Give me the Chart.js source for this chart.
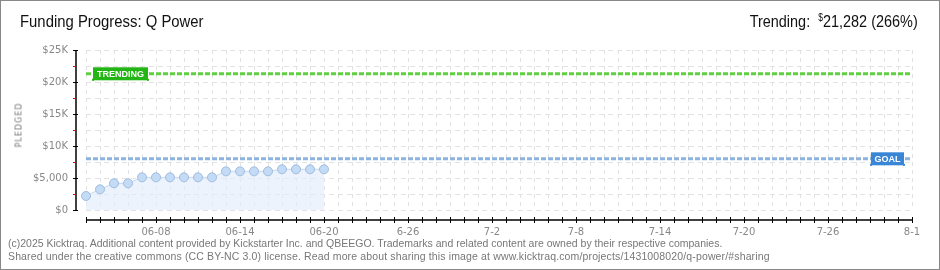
<!DOCTYPE html>
<html>
<head>
<meta charset="utf-8">
<script src="https://cdn.jsdelivr.net/npm/chart.js@4/dist/chart.umd.min.js"></script>
<style>
  body { margin: 0; background: #fff; }
  #wrap { position: relative; width: 940px; height: 270px; overflow: hidden; }
  #frame { position: absolute; left: 0; top: 0; width: 940px; height: 270px; box-sizing: border-box; border: 1px solid #888; pointer-events: none; }
  canvas { position: absolute; left: 0; top: 0; }
  .txt { position: absolute; white-space: nowrap; }
  #title { left: 20px; top: 12px; font: 17px "Liberation Sans", sans-serif; color: #111; transform: scaleX(0.875); transform-origin: 0 0; }
  #trend { right: 22px; top: 12px; font: 17px "Liberation Sans", sans-serif; color: #111; transform: scaleX(0.85); transform-origin: 100% 0; }
  #trend sup { font-size: 10px; vertical-align: 6px; }
  #pledged { left: 19px; top: 125px; font: 8px "DejaVu Sans", sans-serif; letter-spacing: 1px; color: #777; transform: translate(-50%, -50%) rotate(-90deg); }
  .foot { left: 8px; font: 10.5px "Liberation Sans", sans-serif; color: #777; }
</style>
</head>
<body>
<div id="wrap">
  <canvas id="chart" width="940" height="270"></canvas>
  <div class="txt" id="title">Funding Progress: Q Power</div>
  <div class="txt" id="trend">Trending:&nbsp; <sup>$</sup>21,282 (266%)</div>
  <div class="txt" id="pledged">PLEDGED</div>
  <div class="txt foot" style="top:237px">(c)2025 Kicktraq. Additional content provided by Kickstarter Inc. and QBEEGO. Trademarks and related content are owned by their respective companies.</div>
  <div class="txt foot" style="top:250px; letter-spacing:0.14px">Shared under the creative commons (CC BY-NC 3.0) license. Read more about sharing this image at www.kicktraq.com/projects/1431008020/q-power/#sharing</div>
  <div id="frame"></div>
</div>
<script>
// Données du graphique
const pledged = [2190, 3230, 4170, 4170, 5100, 5100, 5100, 5100, 5100, 5100,
                 6040, 6040, 6040, 6040, 6360, 6360, 6360, 6360];
const goal = 8000;
const trending = 21282;

// Jours de la campagne : 06-03 -> 08-01
const startDate = new Date(2025, 5, 3);
const dayCount = 60;
const days = [];
for (let i = 0; i < dayCount; i++) {
  const d = new Date(startDate);
  d.setDate(d.getDate() + i);
  days.push((d.getMonth() + 1) + '-' + d.getDate());
}

// Étiquettes des axes
const xTickDays = ['6-8', '6-14', '6-20', '6-26', '7-2', '7-8', '7-14', '7-20', '7-26', '8-1'];
const xTickText = ['06-08', '06-14', '06-20', '6-26', '7-2', '7-8', '7-14', '7-20', '7-26', '8-1'];
const yTickValues = [0, 5000, 10000, 15000, 20000, 25000];
const yTickText = ['$0', '$5,000', '$10K', '$15K', '$20K', '$25K'];

const goalLine = days.map(() => goal);
const trendLine = days.map(() => trending);

// Axes dessinés à la main + étiquettes TRENDING / GOAL
const decorPlugin = {
  id: 'decor',
  afterDatasetsDraw(chart) {
    const { ctx, chartArea, scales } = chart;
    const x = scales.x, y = scales.y;
    ctx.save();
    // axe Y
    const ax = chartArea.left - 10;
    ctx.strokeStyle = '#000';
    ctx.lineWidth = 1.5;
    ctx.beginPath();
    ctx.moveTo(ax, y.getPixelForValue(25000));
    ctx.lineTo(ax, y.getPixelForValue(0));
    ctx.stroke();
    for (let v = 0; v <= 25000; v += 2500) {
      const py = Math.round(y.getPixelForValue(v)) + 0.5;
      ctx.lineWidth = 1;
      ctx.beginPath();
      if (v % 5000 === 0) {
        ctx.strokeStyle = '#000';
        ctx.moveTo(ax - 3, py); ctx.lineTo(ax + 2, py);
      } else {
        ctx.strokeStyle = '#e00';
        ctx.moveTo(ax - 3, py); ctx.lineTo(ax, py);
      }
      ctx.stroke();
    }
    // axe X
    const ay = chartArea.bottom + 10;
    ctx.strokeStyle = '#000';
    ctx.lineWidth = 1.5;
    ctx.beginPath();
    ctx.moveTo(x.getPixelForValue(0), ay);
    ctx.lineTo(x.getPixelForValue(dayCount - 1), ay);
    ctx.stroke();
    ctx.lineWidth = 1;
    for (let i = 0; i < dayCount; i++) {
      const px = Math.round(x.getPixelForValue(i)) + 0.5;
      ctx.beginPath();
      ctx.moveTo(px, ay - 3); ctx.lineTo(px, ay + 3);
      ctx.stroke();
    }
    // étiquettes
    const tag = (text, color, left, cy, w) => {
      ctx.fillStyle = color;
      ctx.fillRect(left, cy - 6.5, w, 13);
      ctx.fillRect(left - 1, cy + 5, 2, 2);
      ctx.fillRect(left + w - 1, cy + 5, 2, 2);
      ctx.fillStyle = '#fff';
      ctx.font = 'bold 9px "Liberation Sans", sans-serif';
      ctx.textBaseline = 'middle';
      ctx.textAlign = 'center';
      ctx.fillText(text, left + w / 2, cy + 0.5);
    };
    tag('TRENDING', '#22b514', chartArea.left + 7, y.getPixelForValue(trending), 55);
    tag('GOAL', '#3a86d6', chartArea.right - 41, y.getPixelForValue(goal), 33);
    ctx.restore();
  }
};

new Chart(document.getElementById('chart'), {
  type: 'line',
  data: {
    labels: days,
    datasets: [
      {
        label: 'Trending',
        data: trendLine,
        borderColor: '#5fd040',
        borderWidth: 3,
        borderDash: [5, 2],
        pointRadius: 0,
        fill: false
      },
      {
        label: 'Goal',
        data: goalLine,
        borderColor: '#8db3de',
        borderWidth: 3,
        borderDash: [5, 2],
        pointRadius: 0,
        fill: false
      },
      {
        label: 'Pledged',
        data: pledged,
        borderColor: '#c3d9f2',
        borderWidth: 1,
        backgroundColor: 'rgba(226,237,251,0.65)',
        fill: 'origin',
        pointRadius: 4.5,
        pointBackgroundColor: '#c4dbf5',
        pointBorderColor: '#9ebbdf',
        pointBorderWidth: 1
      }
    ]
  },
  options: {
    responsive: false,
    animation: false,
    layout: { padding: { top: 50, right: 28, left: 0, bottom: 0 } },
    plugins: { legend: { display: false }, tooltip: { enabled: false } },
    scales: {
      x: {
        afterFit: (s) => { s.height = 60; },
        border: { display: false, dash: [4, 4] },
        grid: { color: '#e2e2e2', drawTicks: false },
        ticks: {
          autoSkip: false,
          maxRotation: 0,
          padding: 16,
          color: '#888',
          font: { family: 'DejaVu Sans', size: 10 },
          callback: (v, i) => {
            const k = xTickDays.indexOf(days[i]);
            return k >= 0 ? xTickText[k] : '';
          }
        }
      },
      y: {
        min: 0,
        max: 25000,
        afterFit: (s) => { s.width = 86; },
        border: { display: false, dash: [5, 4] },
        grid: { color: '#e2e2e2', drawTicks: false },
        ticks: {
          stepSize: 2500,
          padding: 18,
          color: '#888',
          font: { family: 'DejaVu Sans', size: 10 },
          callback: (v) => {
            const k = yTickValues.indexOf(v);
            return k >= 0 ? yTickText[k] : '';
          }
        }
      }
    }
  },
  plugins: [decorPlugin]
});
</script>
</body>
</html>
